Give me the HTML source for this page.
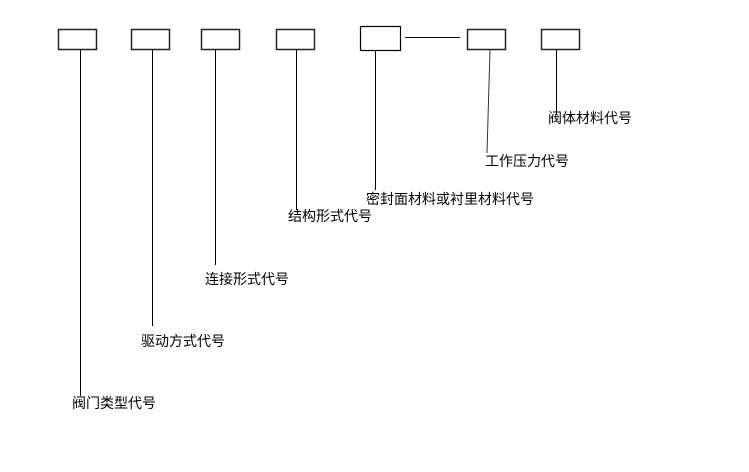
<!DOCTYPE html>
<html><head><meta charset="utf-8"><style>
html,body{margin:0;padding:0;background:#fff;}
svg text{font-family:"Liberation Sans","Noto Sans CJK SC",sans-serif;font-size:14px;fill:#000;}
</style></head><body>
<svg width="749" height="467" xmlns="http://www.w3.org/2000/svg">
<g fill="#fff" stroke="#222" stroke-width="1.5">
<rect x="58.5" y="29.5" width="38" height="20"/>
<rect x="131.5" y="29.5" width="38" height="20"/>
<rect x="201.5" y="29.5" width="38" height="20"/>
<rect x="276.5" y="29.5" width="38" height="20"/>
<rect x="360.5" y="26.5" width="40" height="24" stroke="#000" stroke-width="1.2"/>
<rect x="467.5" y="29.5" width="38" height="20"/>
<rect x="541.5" y="29.5" width="38" height="20"/>
</g>
<g stroke="#000" stroke-width="1">
<line x1="405" y1="37.5" x2="460" y2="37.5"/>
<line x1="80.5" y1="50" x2="80.5" y2="396"/>
<line x1="152.5" y1="50" x2="152.5" y2="326"/>
<line x1="215.5" y1="50" x2="215.5" y2="265"/>
<line x1="296.5" y1="50" x2="296.5" y2="210"/>
<line x1="375.5" y1="51" x2="375.5" y2="190"/>
<line x1="490" y1="50" x2="487" y2="153" stroke="#333"/>
<line x1="556.5" y1="50" x2="556.5" y2="115"/>
</g>
<text x="548" y="123">阀体材料代号</text>
<text x="485" y="166">工作压力代号</text>
<text x="366" y="204">密封面材料或衬里材料代号</text>
<text x="288" y="221">结构形式代号</text>
<text x="205" y="284">连接形式代号</text>
<text x="141" y="346">驱动方式代号</text>
<text x="72" y="408">阀门类型代号</text>
</svg>
</body></html>
